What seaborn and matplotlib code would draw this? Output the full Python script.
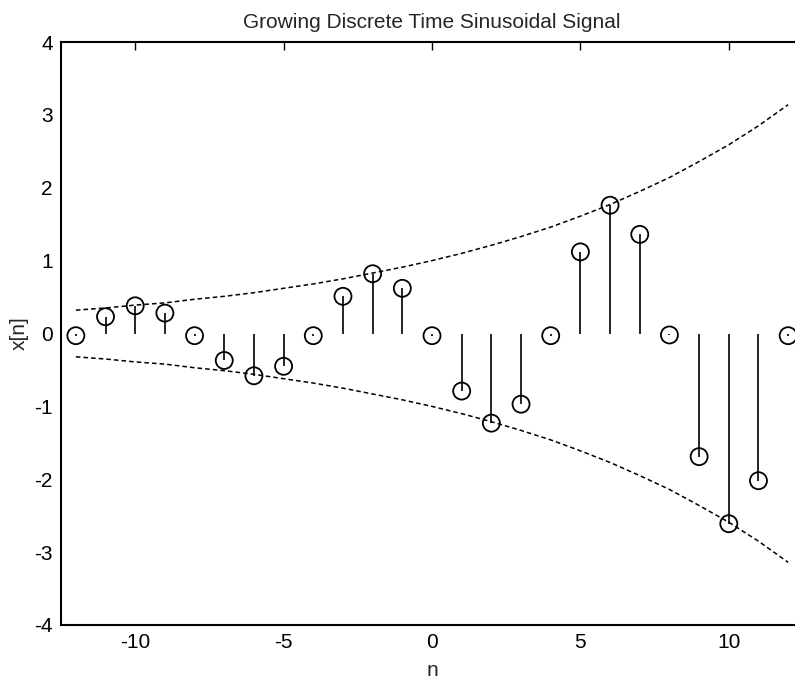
import numpy as np
import pandas as pd
import matplotlib
matplotlib.use("Agg")
import matplotlib.pyplot as plt
import seaborn as sns

# sample index
n = list(range(-12, 13))
# x[n] values
xn = [-0.03, 0.23, 0.38, 0.28, -0.03, -0.37, -0.58, -0.45, -0.03, 0.51, 0.82, 0.62, -0.03,
      -0.79, -1.23, -0.97, -0.03, 1.12, 1.76, 1.36, -0.02, -1.69, -2.61, -2.02, -0.03]
# upper envelope (dashed), lower one is its mirror
env = [0.32, 0.35, 0.39, 0.42, 0.47, 0.51, 0.56, 0.62, 0.68, 0.75, 0.83, 0.91, 1.00,
       1.10, 1.21, 1.33, 1.46, 1.61, 1.77, 1.95, 2.14, 2.36, 2.59, 2.85, 3.14]

df = pd.DataFrame({"n": n, "x": xn, "upper": env, "lower": [-v for v in env]})

sns.set_style("white")
plt.rcParams["font.family"] = ["Liberation Sans", "DejaVu Sans"]
plt.rcParams["font.size"] = 15
plt.rcParams["axes.unicode_minus"] = False

fig = plt.figure(figsize=(7.95, 6.8), dpi=100)
ax = fig.add_axes([61 / 795, 1 - 625 / 680, 742 / 795, 583 / 680])

ax.vlines(df["n"], 0, df["x"], color="black", lw=1.2)
sns.scatterplot(data=df, x="n", y="x", ax=ax, marker="o", s=150,
                facecolor="none", edgecolor="black", linewidth=1.3, zorder=3)
sns.lineplot(data=df, x="n", y="upper", ax=ax, color="black", lw=1.1,
             linestyle=(0, (3, 2)))
sns.lineplot(data=df, x="n", y="lower", ax=ax, color="black", lw=1.1,
             linestyle=(0, (3, 2)))

ax.set_xlim(-12.5, 12.5)
ax.set_ylim(-4, 4)
ax.set_xticks([-10, -5, 0, 5, 10])
ax.set_yticks(range(-4, 5))
ax.tick_params(direction="in", length=6, width=1, top=True, right=True,
               labelsize=15, colors="black", pad=6)
for s in ax.spines.values():
    s.set_linewidth(1.5)
    s.set_color("black")

ax.set_title("Growing Discrete Time Sinusoidal Signal", fontsize=15, pad=10)
ax.set_xlabel("n", fontsize=15, labelpad=6)
ax.set_ylabel("x[n]", fontsize=15, labelpad=4)

fig.savefig("out.png", dpi=100)
